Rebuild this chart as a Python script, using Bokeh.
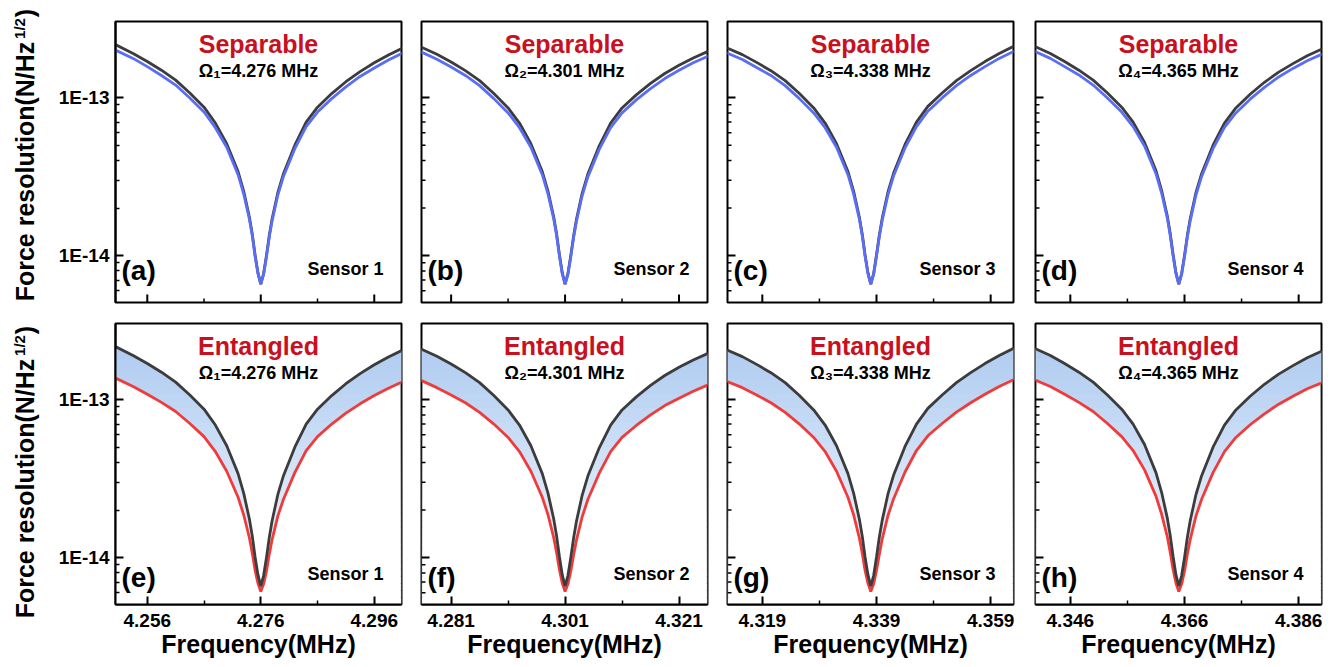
import numpy as np
from bokeh.plotting import figure
from bokeh.layouts import row, column
from bokeh.models import FixedTicker, CustomJSTickFormatter, Label, ColumnDataSource, Range1d
from bokeh.core.properties import value
from bokeh.embed import file_html
from bokeh.resources import INLINE

FONT = "Liberation Sans"

# ---------------- data ----------------
detuning_khz = [-26, -22.5, -20, -17.5, -15, -12.5, -10, -8, -6, -4, -3, -2, -1.5, -1, -0.5,
                0, 0.5, 1, 1.5, 2, 3, 4, 6, 8, 10, 12.5, 15, 17.5, 20, 22.5, 26]

centers_mhz = [4.276, 4.301, 4.338, 4.365]
omega_labels = ["Ω₁=4.276 MHz", "Ω₂=4.301 MHz", "Ω₃=4.338 MHz", "Ω₄=4.365 MHz"]
sensor_labels = ["Sensor 1", "Sensor 2", "Sensor 3", "Sensor 4"]
top_tags = ["(a)", "(b)", "(c)", "(d)"]
bottom_tags = ["(e)", "(f)", "(g)", "(h)"]
row_titles = ["Separable", "Entangled"]
y_title_main = "Force resolution(N/Hz"
y_title_sup = "1/2"
y_title_end = ")"
x_title = "Frequency(MHz)"

x_major_ticks = [[4.256, 4.276, 4.296], [4.281, 4.301, 4.321],
                 [4.319, 4.339, 4.359], [4.346, 4.366, 4.386]]
x_minor_ticks = [[4.266, 4.286], [4.291, 4.311], [4.329, 4.349], [4.356, 4.376]]
x_limits = [(4.2504, 4.3008), (4.2758, 4.3260), (4.3129, 4.3630), (4.3399, 4.3900)]
y_limits = (5.05e-15, 3.03e-13)
y_major_ticks = [1e-14, 1e-13]
y_minor_ticks = [6e-15, 7e-15, 8e-15, 9e-15, 2e-14, 3e-14, 4e-14, 5e-14,
                 6e-14, 7e-14, 8e-14, 9e-14]

# force resolution, in units of 1e-13 N/Hz^1/2
classical_1 = [2.20, 1.90, 1.69, 1.49, 1.29, 1.07, 0.87, 0.69, 0.51, 0.34, 0.255, 0.175, 0.137, 0.101, 0.078,
               0.066, 0.077, 0.100, 0.134, 0.171, 0.25, 0.33, 0.50, 0.70, 0.87, 1.06, 1.26, 1.46, 1.66, 1.86, 2.14]
separable_1 = [2.03, 1.77, 1.57, 1.38, 1.20, 0.995, 0.81, 0.645, 0.485, 0.325, 0.245, 0.170, 0.134, 0.099, 0.077,
               0.066, 0.076, 0.098, 0.131, 0.166, 0.241, 0.317, 0.475, 0.655, 0.81, 0.985, 1.17, 1.36, 1.54, 1.73, 1.99]
entangled_1 = [1.39, 1.21, 1.08, 0.96, 0.84, 0.706, 0.583, 0.469, 0.352, 0.241, 0.186, 0.133, 0.107, 0.083, 0.069,
               0.061, 0.068, 0.082, 0.105, 0.130, 0.183, 0.234, 0.345, 0.476, 0.583, 0.70, 0.82, 0.94, 1.06, 1.18, 1.35]

classical_2 = [2.15, 1.88, 1.68, 1.48, 1.28, 1.06, 0.86, 0.69, 0.51, 0.34, 0.256, 0.176, 0.138, 0.102, 0.078,
               0.066, 0.077, 0.100, 0.133, 0.170, 0.248, 0.328, 0.495, 0.69, 0.86, 1.04, 1.23, 1.42, 1.60, 1.78, 2.03]
separable_2 = [2.00, 1.75, 1.56, 1.38, 1.19, 0.985, 0.80, 0.645, 0.485, 0.325, 0.246, 0.171, 0.135, 0.100, 0.077,
               0.066, 0.076, 0.098, 0.130, 0.165, 0.239, 0.315, 0.470, 0.645, 0.80, 0.967, 1.14, 1.32, 1.49, 1.66, 1.89]
entangled_2 = [1.36, 1.19, 1.07, 0.955, 0.83, 0.70, 0.576, 0.469, 0.352, 0.241, 0.187, 0.134, 0.108, 0.084, 0.069,
               0.061, 0.068, 0.082, 0.104, 0.129, 0.181, 0.233, 0.342, 0.469, 0.576, 0.686, 0.80, 0.916, 1.02, 1.13, 1.28]

classical_3 = [2.12, 1.87, 1.67, 1.48, 1.28, 1.06, 0.86, 0.69, 0.51, 0.34, 0.255, 0.175, 0.137, 0.101, 0.078,
               0.066, 0.077, 0.101, 0.135, 0.172, 0.252, 0.333, 0.505, 0.70, 0.88, 1.07, 1.28, 1.48, 1.69, 1.90, 2.20]
separable_3 = [1.97, 1.74, 1.55, 1.38, 1.19, 0.985, 0.80, 0.645, 0.485, 0.325, 0.245, 0.170, 0.134, 0.099, 0.077,
               0.066, 0.076, 0.099, 0.132, 0.167, 0.242, 0.320, 0.480, 0.655, 0.82, 0.995, 1.19, 1.38, 1.57, 1.77, 2.04]
entangled_3 = [1.34, 1.19, 1.07, 0.955, 0.83, 0.70, 0.576, 0.469, 0.352, 0.241, 0.186, 0.133, 0.107, 0.083, 0.069,
               0.061, 0.068, 0.083, 0.105, 0.131, 0.184, 0.236, 0.348, 0.476, 0.59, 0.706, 0.832, 0.955, 1.08, 1.21, 1.39]

classical_4 = [2.17, 1.90, 1.69, 1.49, 1.29, 1.07, 0.87, 0.70, 0.52, 0.345, 0.258, 0.177, 0.138, 0.102, 0.078,
               0.066, 0.077, 0.100, 0.134, 0.171, 0.25, 0.33, 0.50, 0.69, 0.86, 1.05, 1.25, 1.45, 1.64, 1.84, 2.10]
separable_4 = [2.02, 1.77, 1.57, 1.39, 1.20, 0.995, 0.81, 0.655, 0.494, 0.330, 0.248, 0.172, 0.134, 0.100, 0.077,
               0.066, 0.076, 0.098, 0.131, 0.166, 0.241, 0.317, 0.475, 0.648, 0.80, 0.977, 1.16, 1.35, 1.53, 1.71, 1.95]
entangled_4 = [1.37, 1.21, 1.08, 0.96, 0.84, 0.706, 0.583, 0.476, 0.359, 0.245, 0.188, 0.135, 0.108, 0.084, 0.069,
               0.061, 0.068, 0.082, 0.105, 0.130, 0.183, 0.234, 0.345, 0.469, 0.576, 0.693, 0.813, 0.935, 1.05, 1.17, 1.32]

UNIT = 1e-13
classical = [classical_1, classical_2, classical_3, classical_4]
separable = [separable_1, separable_2, separable_3, separable_4]
entangled = [entangled_1, entangled_2, entangled_3, entangled_4]

# ---------------- styling ----------------
FW, FH = 286, 281
TITLE_W = 45
C_BLACK = "#3c3c3c"
C_BLUE = "#5a6ef5"
C_RED = "#ef3b3b"
C_TITLE = "#c8101e"
C_FILL = "#a9c8f0"
LW = 2.8

LY0, LY1 = np.log10(y_limits[0]), np.log10(y_limits[1])


def to_data(xr, px, py):
    """frame-relative pixel offsets (px from left, py from top) -> data coords"""
    x = xr[0] + px / FW * (xr[1] - xr[0])
    y = 10 ** (LY1 - py / FH * (LY1 - LY0))
    return x, y


def add_text(p, xr, px, py, text, size, color="black", align="center", baseline="middle"):
    x, y = to_data(xr, px, py)
    p.add_layout(Label(x=x, y=y, text=text, text_font=FONT, text_font_style="bold",
                       text_font_size=f"{size}px", text_color=color, text_align=align,
                       text_baseline=baseline))


def style_axis(ax):
    ax.axis_line_width = 2
    ax.axis_line_color = "black"
    ax.major_tick_in = 8
    ax.major_tick_out = 0
    ax.minor_tick_in = 4
    ax.minor_tick_out = 0
    ax.major_tick_line_width = 2
    ax.minor_tick_line_width = 1.5
    ax.major_tick_line_color = "black"
    ax.minor_tick_line_color = "black"
    ax.major_label_text_font = FONT
    ax.major_label_text_font_style = "bold"
    ax.major_label_text_font_size = "19px"
    ax.major_label_text_color = "black"


def inner_x_ticks(p, xr, majors, minors):
    h_maj = 10 ** (LY0 + 8 / FH * (LY1 - LY0))
    h_min = 10 ** (LY0 + 4 / FH * (LY1 - LY0))
    p.segment(x0=majors, y0=[y_limits[0]] * len(majors), x1=majors, y1=[h_maj] * len(majors),
              line_color="black", line_width=2)
    p.segment(x0=minors, y0=[y_limits[0]] * len(minors), x1=minors, y1=[h_min] * len(minors),
              line_color="black", line_width=1.5)


def inner_y_ticks(p, xr, majors, minors):
    w_maj = xr[0] + 8 / FW * (xr[1] - xr[0])
    w_min = xr[0] + 4 / FW * (xr[1] - xr[0])
    p.segment(x0=[xr[0]] * len(majors), y0=majors, x1=[w_maj] * len(majors), y1=majors,
              line_color="black", line_width=2)
    p.segment(x0=[xr[0]] * len(minors), y0=minors, x1=[w_min] * len(minors), y1=minors,
              line_color="black", line_width=1.5)


MAIN_LEN = 264      # rendered length of the main part of the y title (px, 25px bold)
SUP_LEN = 22        # rendered length of the superscript


def title_figure(height, top_offset, start_screen):
    """narrow strip (no axes) holding the rotated y title."""
    t = figure(frame_width=TITLE_W, frame_height=height, x_range=Range1d(0, TITLE_W),
               y_range=Range1d(0, height), toolbar_location=None, output_backend="svg",
               x_axis_location=None, y_axis_location=None,
               min_border_left=0, min_border_right=0, min_border_top=0, min_border_bottom=0)
    t.grid.visible = False
    t.outline_line_color = None
    t.background_fill_color = "white"
    t.border_fill_color = "white"
    s = start_screen - top_offset
    pieces = [
        (y_title_main, 24.5, s - MAIN_LEN / 2, "25px"),
        (y_title_sup, 19.0, s - MAIN_LEN - SUP_LEN / 2, "15px"),
        (y_title_end, 24.5, s - MAIN_LEN - SUP_LEN - 4.5, "25px"),
    ]
    for txt, xs, ys, size in pieces:
        t.text(x=[xs], y=[height - ys], text=[txt], angle=np.pi / 2, text_font=value(FONT),
               text_font_style="bold", text_font_size=size, text_color="black",
               text_align="center", text_baseline="middle")
    return t


row_heights = [21 + FH + 10, 11 + FH + 63]
row_tops = [0, row_heights[0]]
title_starts = [303, 620]

# title strips live in their own column so that row frame-alignment cannot shift them
title_col = column(*[title_figure(row_heights[r], row_tops[r], title_starts[r]) for r in range(2)],
                   spacing=0)

rows = []
for r in range(2):
    figs = []
    for c in range(4):
        xr = x_limits[c]
        p = figure(frame_width=FW, frame_height=FH, y_axis_type="log",
                   x_range=Range1d(*xr), y_range=Range1d(*y_limits),
                   toolbar_location=None, output_backend="svg",
                   min_border_left=115 - TITLE_W if c == 0 else 10,
                   min_border_right=12 if c == 2 else 10,
                   min_border_top=21 if r == 0 else 11,
                   min_border_bottom=10 if r == 0 else 63)
        p.background_fill_color = "white"
        p.border_fill_color = "white"
        p.grid.visible = False
        p.outline_line_color = "black"
        p.outline_line_width = 2
        p.outline_line_alpha = 1

        # y axis: labelled only in the first column
        if c == 0:
            ay = p.yaxis[0]
            style_axis(ay)
            ay.ticker = FixedTicker(ticks=y_major_ticks, minor_ticks=y_minor_ticks)
            ay.formatter = CustomJSTickFormatter(
                code="return tick.toExponential(0).toUpperCase().replace('+', '');")
            ay.major_label_standoff = 6
        else:
            p.yaxis.visible = False

        # x axis: labelled only in the bottom row
        if r == 1:
            ax = p.xaxis[0]
            style_axis(ax)
            ax.ticker = FixedTicker(ticks=x_major_ticks[c], minor_ticks=x_minor_ticks[c])
            ax.formatter = CustomJSTickFormatter(code="return tick.toFixed(3);")
            ax.major_label_standoff = 9
            ax.axis_label = x_title
            ax.axis_label_text_font = FONT
            ax.axis_label_text_font_style = "bold"
            ax.axis_label_text_font_size = "25px"
            ax.axis_label_text_color = "black"
            ax.axis_label_standoff = 0
        else:
            p.xaxis.visible = False

        freq = [centers_mhz[c] + d / 1000.0 for d in detuning_khz]
        src = ColumnDataSource(dict(
            f=freq,
            classical=[v * UNIT for v in classical[c]],
            separable=[v * UNIT for v in separable[c]],
            entangled=[v * UNIT for v in entangled[c]],
        ))

        if r == 0:
            p.line("f", "classical", source=src, line_color=C_BLACK, line_width=LW)
            p.line("f", "separable", source=src, line_color=C_BLUE, line_width=LW)
        else:
            p.varea(x="f", y1="entangled", y2="classical", source=src,
                    fill_color=C_FILL, fill_alpha=1.0)
            # vertical fade of the shaded band (white veil, stronger towards the bottom)
            nb = 40
            edges = np.linspace(LY1, LY0, nb + 1)
            gsrc = ColumnDataSource(dict(
                left=[xr[0]] * nb, right=[xr[1]] * nb,
                top=list(10 ** edges[:-1]), bottom=list(10 ** edges[1:]),
                alpha=[0.95 * (i + 0.5) / nb for i in range(nb)],
            ))
            p.quad(left="left", right="right", top="top", bottom="bottom", source=gsrc,
                   fill_color="white", fill_alpha="alpha", line_color=None)
            p.line("f", "entangled", source=src, line_color=C_RED, line_width=LW)
            p.line("f", "classical", source=src, line_color=C_BLACK, line_width=LW)

        # hand-drawn inner ticks where the axis carries no labels
        if c != 0:
            inner_y_ticks(p, xr, y_major_ticks, y_minor_ticks)
        if r == 0:
            inner_x_ticks(p, xr, x_major_ticks[c], x_minor_ticks[c])

        # in-panel texts
        add_text(p, xr, 143, 22, row_titles[r], 25, color=C_TITLE)
        add_text(p, xr, 143, 49, omega_labels[c], 18)
        tag = top_tags[c] if r == 0 else bottom_tags[c]
        add_text(p, xr, 6, 249 if r == 0 else 254, tag, 28, align="left")
        add_text(p, xr, 268, 247 if r == 0 else 250, sensor_labels[c], 18, align="right")

        figs.append(p)
    rows.append(row(*figs, spacing=0))

plots_col = column(*rows, spacing=0)
layout = row(title_col, plots_col, spacing=0)
open("out.html", "w").write(file_html(layout, INLINE))
